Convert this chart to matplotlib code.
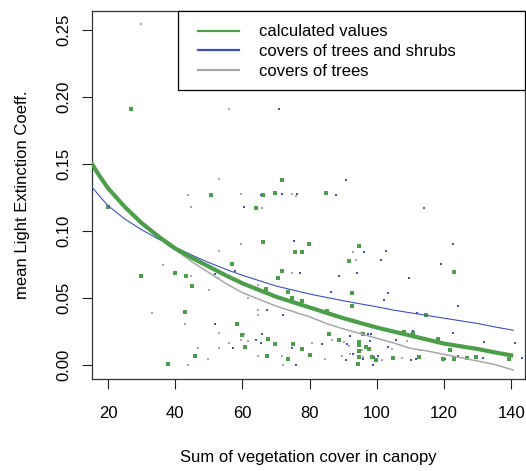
import matplotlib
matplotlib.use("Agg")
import matplotlib.pyplot as plt
from matplotlib.patches import Rectangle
from matplotlib.lines import Line2D

plt.rcParams['font.family'] = ['Liberation Sans', 'DejaVu Sans']

GREEN = "#4c9e4a"
BLUE = "#3f4fc0"
GREY = "#a8a8a8"

# observed values: calculated
calc_x = [26.8, 19.9, 29.7, 39.8, 43.2, 45.0, 42.9, 46.0, 37.9,
          71.7, 50.7, 66.0, 69.7, 64.0, 66.0, 75.7, 77.7, 79.8, 56.8, 71.7, 70.7,
          67.0, 73.7, 74.7, 77.7, 58.4, 59.9, 67.7, 69.7, 75.0, 60.9, 77.7, 67.2,
          80.2, 73.7,
          84.9, 94.7, 91.6, 92.6, 92.6, 85.9, 88.8, 94.7, 94.7, 96.0, 96.8, 97.7,
          94.8, 110.7, 94.6, 98.7, 99.8, 104.8, 112.6, 94.3, 108.2, 85.1,
          123.1, 114.6, 118.2, 121.7, 119.7, 123.1, 126.8, 129.6, 139.3]
calc_y = [0.191, 0.118, 0.0667, 0.069, 0.0667, 0.059, 0.0396, 0.0065, 0.0007,
          0.1378, 0.127, 0.127, 0.1286, 0.117, 0.092, 0.0846, 0.0846, 0.090, 0.0751, 0.0704, 0.0652,
          0.0565, 0.0547, 0.0498, 0.048, 0.0304, 0.0224, 0.0192, 0.0159, 0.0159, 0.0132, 0.0122, 0.0065,
          0.0075, 0.0047,
          0.1286, 0.0888, 0.0778, 0.054, 0.044, 0.0234, 0.0189, 0.0175, 0.0150, 0.0234, 0.0132, 0.0122,
          0.0107, 0.0241, 0.0062, 0.0062, 0.0037, 0.005, 0.0057, 0.0007, 0.0249, 0.040,
          0.0692, 0.0375, 0.0194, 0.0112, 0.0047, 0.0047, 0.005, 0.0057, 0.0045]

# observed values: covers of trees and shrubs
shrub_x = [70.9, 65.4, 71.9, 76.3, 60.4, 75.3, 57.9, 77.0, 51.9, 63.9, 72.2, 67.4, 72.2,
           51.9, 65.8, 63.9, 65.4, 57.3, 74.9, 76.0,
           90.8, 87.8, 96.2, 102.6, 101.2, 88.8, 94.2, 109.7, 86.5, 103.3, 102.2, 112.0,
           83.7, 91.1, 97.4, 98.3, 92.0, 98.0, 103.4, 105.7, 110.7, 90.7, 92.8, 95.8,
           99.3, 100.3, 104.4, 110.3, 111.8, 98.8,
           114.1, 122.6, 119.2, 124.3, 122.6, 132.0, 141.1, 124.2, 120.3, 131.7, 143.2]
shrub_y = [0.191, 0.1266, 0.128, 0.128, 0.118, 0.0925, 0.0704, 0.0689, 0.0677, 0.0562, 0.0498, 0.0408, 0.0375,
           0.0306, 0.0229, 0.0187, 0.0162, 0.0129, 0.0129, 0.0,
           0.1383, 0.1266, 0.084, 0.085, 0.0781, 0.0662, 0.0689, 0.0647, 0.0547, 0.054, 0.0483, 0.039,
           0.0157, 0.0157, 0.0234, 0.0229, 0.0216, 0.0179, 0.0137, 0.0187, 0.0254, 0.0040, 0.0080, 0.0042,
           0.0062, 0.0069, 0.0045, 0.0037, 0.0042, 0.0,
           0.117, 0.090, 0.0751, 0.044, 0.0236, 0.0172, 0.0164, 0.0067, 0.0042, 0.005, 0.0052]

# observed values: covers of trees
tree_x = [29.8, 55.9, 43.7, 44.7, 36.3, 44.8, 50.0, 33.0, 42.8, 46.8, 49.9, 43.8,
          52.9, 59.7, 74.9, 75.9, 65.8, 52.9, 59.7, 74.9, 52.8, 64.7, 61.8, 64.7, 64.7,
          52.9, 60.6, 59.7, 61.8, 56.0, 80.7, 52.9, 64.7, 71.9, 72.2,
          92.8, 93.8, 95.2, 86.8, 80.6, 90.2, 91.6, 95.6, 104.6, 109.1, 84.7, 89.7,
          91.9, 95.8, 101.6, 107.6, 112.8]
tree_y = [0.2545, 0.191, 0.127, 0.118, 0.075, 0.0667, 0.056, 0.039, 0.031, 0.0129, 0.0045, 0.0002,
          0.1386, 0.128, 0.128, 0.126, 0.117, 0.085, 0.090, 0.0689, 0.065, 0.0597, 0.0498, 0.0408, 0.0375,
          0.0239, 0.0231, 0.0187, 0.0179, 0.0162, 0.0162, 0.0129, 0.0069, 0.0069, 0.0,
          0.084, 0.0784, 0.0236, 0.0187, 0.0164, 0.0174, 0.0142, 0.0112, 0.0117, 0.0179, 0.0042, 0.0069,
          0.0080, 0.0057, 0.0037, 0.005, 0.0112]

# fitted curves
fit_x = [15.0, 17.5, 20, 22.5, 25, 27.5, 30, 32.5, 35, 37.5, 40, 45, 50, 55, 60, 65,
         70, 75, 80, 85, 90, 95, 100, 105, 110, 115, 120, 125, 130, 135, 140.6]
fit_calc = [0.151, 0.141, 0.132, 0.125, 0.118, 0.112, 0.106, 0.101, 0.096, 0.0915,
            0.087, 0.080, 0.0735, 0.067, 0.061, 0.056, 0.051, 0.047, 0.043, 0.039,
            0.035, 0.0315, 0.028, 0.025, 0.022, 0.019, 0.016, 0.014, 0.012, 0.0095, 0.007]
fit_shrub = [0.1335, 0.126, 0.119, 0.114, 0.109, 0.105, 0.101, 0.0975, 0.094, 0.091,
             0.088, 0.082, 0.0765, 0.0715, 0.067, 0.063, 0.059, 0.056, 0.053, 0.0505,
             0.048, 0.0457, 0.0435, 0.041, 0.039, 0.037, 0.035, 0.033, 0.031, 0.0285, 0.026]
fit_tree = [0.152, 0.142, 0.132, 0.125, 0.118, 0.111, 0.105, 0.100, 0.095, 0.090,
            0.086, 0.077, 0.069, 0.061, 0.054, 0.049, 0.044, 0.040, 0.036, 0.031,
            0.027, 0.0235, 0.020, 0.0165, 0.0125, 0.0105, 0.008, 0.0055, 0.003, 0.0005, -0.0037]

x_ticks = [20, 40, 60, 80, 100, 120, 140]
y_ticks = [0.00, 0.05, 0.10, 0.15, 0.20, 0.25]
legend_labels = ["calculated values", "covers of trees and shrubs", "covers of trees"]

W, H = 526, 471
fig = plt.figure(figsize=(W / 100, H / 100), dpi=100)
L, R, T, B = 92, 525, 11, 379
ax = fig.add_axes([L / W, 1 - B / H, (R - L) / W, (B - T) / H])

ax.scatter(tree_x, tree_y, marker="s", s=2.4, color=GREY, linewidths=0, zorder=2)
ax.scatter(shrub_x, shrub_y, marker="s", s=2.4, color=BLUE, linewidths=0, zorder=2)
ax.scatter(calc_x, calc_y, marker="s", s=5.5, color=GREEN, linewidths=0, zorder=2)

ax.plot(fit_x, fit_tree, color=GREY, lw=1.1, zorder=3)
ax.plot(fit_x, fit_shrub, color=BLUE, lw=0.8, zorder=3)
ax.plot(fit_x, fit_calc, color=GREEN, lw=3.0, zorder=4, solid_capstyle="butt")

ax.set_xlim(15.24, 144.1)
ax.set_ylim(-0.0104, 0.2642)
ax.set_xticks(x_ticks)
ax.set_xticklabels([str(v) for v in x_ticks])
ax.set_yticks(y_ticks)
ax.set_yticklabels([f"{v:.2f}" for v in y_ticks], rotation=90, va="center")
ax.tick_params(axis="both", direction="out", length=7.5, width=0.8, labelsize=12,
               colors="#222222", labelcolor="black")
ax.tick_params(axis="x", pad=12)
ax.tick_params(axis="y", pad=7)
for sp in ax.spines.values():
    sp.set_linewidth(0.9)
    sp.set_color("#333333")

ax.set_xlabel("Sum of vegetation cover in canopy", fontsize=12, labelpad=21)
ax.set_ylabel("mean Light Extinction Coeff.", fontsize=12, labelpad=19.5)

# legend frame and entries
bx0 = (178 - L) / (R - L)
by0 = (B - 90) / (B - T)
ax.add_patch(Rectangle((bx0, by0), 1 - bx0, 1 - by0, transform=ax.transAxes,
                       facecolor="white", edgecolor="black", lw=0.9, zorder=5,
                       clip_on=False))
handles = [Line2D([], [], color=GREEN, lw=1.6),
           Line2D([], [], color=BLUE, lw=1.6),
           Line2D([], [], color=GREY, lw=1.6)]
leg = ax.legend(handles, legend_labels, loc="upper left",
                bbox_to_anchor=((198 - L) / (R - L), (B - 24.5) / (B - T)),
                frameon=False, fontsize=12, borderpad=0, borderaxespad=0,
                handlelength=2.46, handletextpad=1.2, labelspacing=0.29)
leg.set_zorder(6)

fig.savefig("out.png", dpi=100)
